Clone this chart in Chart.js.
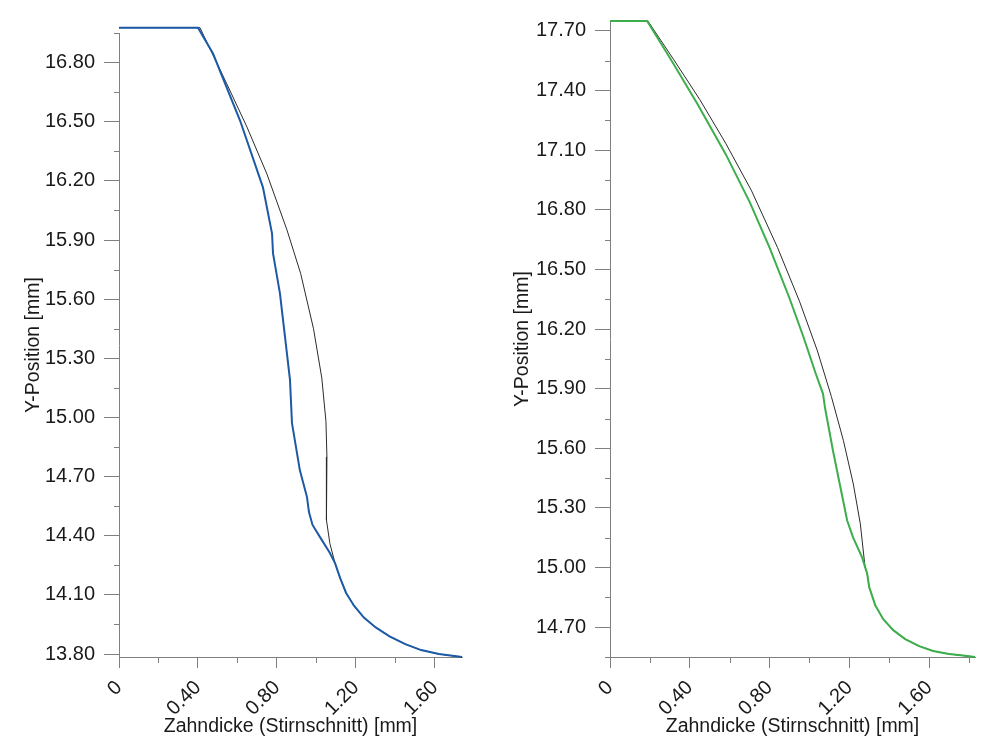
<!DOCTYPE html>
<html>
<head>
<meta charset="utf-8">
<script src="https://cdn.jsdelivr.net/npm/chart.js@4.4.1/dist/chart.umd.min.js"></script>
<style>
  html, body { margin: 0; padding: 0; background: #fff; }
  #left  { position: absolute; left: 0;     top: 0; width: 490px; height: 750px; }
  #right { position: absolute; left: 490px; top: 0; width: 510px; height: 750px; }
</style>
</head>
<body>
<div id="left"><canvas id="chartL"></canvas></div>
<div id="right"><canvas id="chartR"></canvas></div>
<script>
// ---- left chart data (Zahndicke x, Y-Position y) ----
const leftNomX = [0, 0.41, 0.547, 0.648, 0.749, 0.851, 0.92, 0.985, 1.027, 1.048, 1.053, 1.049, 1.052, 1.068, 1.094, 1.12, 1.15, 1.19, 1.24, 1.30, 1.37, 1.45, 1.53, 1.62, 1.737];
const leftNomY = [16.977, 16.977, 16.69, 16.473, 16.235, 15.95, 15.73, 15.45, 15.20, 14.98, 14.80, 14.62, 14.48, 14.36, 14.261, 14.185, 14.11, 14.045, 13.985, 13.935, 13.89, 13.85, 13.82, 13.80, 13.785];
const leftMeasX = [0, 0.40, 0.476, 0.613, 0.729, 0.775, 0.780, 0.815, 0.841, 0.866, 0.876, 0.916, 0.952, 0.962, 0.98, 1.018, 1.068, 1.094, 1.12, 1.15, 1.19, 1.24, 1.30, 1.37, 1.45, 1.53, 1.62, 1.737];
const leftMeasY = [16.977, 16.977, 16.846, 16.506, 16.167, 15.933, 15.832, 15.629, 15.406, 15.189, 14.971, 14.732, 14.596, 14.52, 14.455, 14.393, 14.312, 14.261, 14.185, 14.11, 14.045, 13.985, 13.935, 13.89, 13.85, 13.82, 13.80, 13.785];
const leftXTicks = [0, 0.4, 0.8, 1.2, 1.6];
const leftXMinor = [0.2, 0.6, 1.0, 1.4];
const leftYTicks = [13.8, 14.1, 14.4, 14.7, 15.0, 15.3, 15.6, 15.9, 16.2, 16.5, 16.8];
const leftYMinor = [13.95, 14.25, 14.55, 14.85, 15.15, 15.45, 15.75, 16.05, 16.35, 16.65, 16.95];

// ---- right chart data ----
const rightNomX = [0, 0.19, 0.32, 0.45, 0.58, 0.71, 0.84, 0.95, 1.04, 1.11, 1.17, 1.22, 1.255, 1.279, 1.289, 1.30, 1.33, 1.37, 1.42, 1.48, 1.55, 1.62, 1.70, 1.77, 1.83];
const rightNomY = [17.75, 17.75, 17.555, 17.355, 17.135, 16.895, 16.61, 16.34, 16.09, 15.86, 15.64, 15.42, 15.22, 15.0, 14.971, 14.90, 14.81, 14.74, 14.685, 14.64, 14.605, 14.58, 14.565, 14.557, 14.55];
const rightMeasX = [0, 0.186, 0.30, 0.44, 0.58, 0.70, 0.80, 0.90, 0.97, 1.03, 1.068, 1.078, 1.118, 1.189, 1.219, 1.264, 1.289, 1.30, 1.33, 1.37, 1.42, 1.48, 1.55, 1.62, 1.70, 1.77, 1.83];
const rightMeasY = [17.75, 17.75, 17.565, 17.33, 17.08, 16.84, 16.61, 16.355, 16.16, 15.98, 15.874, 15.804, 15.588, 15.237, 15.151, 15.051, 14.971, 14.90, 14.81, 14.74, 14.685, 14.64, 14.605, 14.58, 14.565, 14.557, 14.55];
const rightXTicks = [0, 0.4, 0.8, 1.2, 1.6];
const rightXMinor = [0.2, 0.6, 1.0, 1.4, 1.8];
const rightYTicks = [14.7, 15.0, 15.3, 15.6, 15.9, 16.2, 16.5, 16.8, 17.1, 17.4, 17.7];
const rightYMinor = [14.55, 14.85, 15.15, 15.45, 15.75, 16.05, 16.35, 16.65, 16.95, 17.25, 17.55];

const axisColor = '#808080';
const textColor = '#1a1a1a';
const fontFamily = '"Liberation Sans", Arial, sans-serif';

function pts(xs, ys) {
  return xs.map((x, i) => ({ x: x, y: ys[i] }));
}

// short minor tick marks between the labelled ones
const minorTicks = {
  id: 'minorTicks',
  afterDraw(chart, args, opts) {
    const ctx = chart.ctx;
    const x = chart.scales.x, y = chart.scales.y;
    ctx.save();
    ctx.strokeStyle = axisColor;
    ctx.lineWidth = 1;
    ctx.beginPath();
    opts.x.forEach(v => {
      const px = Math.round(x.getPixelForValue(v)) + 0.5;
      ctx.moveTo(px, x.top);
      ctx.lineTo(px, x.top + 6);
    });
    opts.y.forEach(v => {
      const py = Math.round(y.getPixelForValue(v)) + 0.5;
      ctx.moveTo(y.right - 5, py);
      ctx.lineTo(y.right, py);
    });
    ctx.stroke();
    ctx.restore();
  }
};

function makeChart(id, c) {
  const fmt = v => (v === 0 ? '0' : v.toFixed(2));
  return new Chart(document.getElementById(id).getContext('2d'), {
    type: 'scatter',
    data: {
      datasets: [
        {
          data: pts(c.measX, c.measY),
          borderColor: c.color,
          borderWidth: 2,
          showLine: true,
          pointRadius: 0,
          tension: 0,
          clip: false
        },
        {
          data: pts(c.nomX, c.nomY),
          borderColor: '#2b2b2b',
          borderWidth: 1,
          showLine: true,
          pointRadius: 0,
          tension: 0,
          clip: false
        }
      ]
    },
    options: {
      responsive: true,
      maintainAspectRatio: false,
      animation: false,
      layout: { padding: { top: c.top, right: c.right, left: 0, bottom: 0 } },
      plugins: {
        legend: { display: false },
        tooltip: { enabled: false },
        minorTicks: { x: c.xMinor, y: c.yMinor }
      },
      scales: {
        x: {
          type: 'linear',
          min: 0,
          max: c.xMax,
          afterBuildTicks: s => { s.ticks = c.xTicks.map(v => ({ value: v })); },
          afterFit: s => { s.height = 93; },
          border: { color: axisColor, width: 1 },
          grid: { drawOnChartArea: false, tickLength: 11, color: axisColor },
          ticks: {
            minRotation: 45,
            maxRotation: 45,
            padding: 8,
            color: textColor,
            font: { family: fontFamily, size: 20 },
            callback: fmt
          },
          title: {
            display: true,
            text: 'Zahndicke (Stirnschnitt) [mm]',
            color: textColor,
            font: { family: fontFamily, size: 19.5 },
            padding: { top: 0, bottom: 12 }
          }
        },
        y: {
          type: 'linear',
          min: c.yMin,
          max: c.yMax,
          afterBuildTicks: s => { s.ticks = c.yTicks.map(v => ({ value: v })); },
          afterFit: s => { s.width = c.left; },
          border: { color: axisColor, width: 1 },
          grid: { drawOnChartArea: false, tickLength: 15, color: axisColor },
          ticks: {
            padding: 9,
            color: textColor,
            font: { family: fontFamily, size: 20 },
            callback: fmt
          },
          title: {
            display: true,
            text: 'Y-Position [mm]',
            color: textColor,
            font: { family: fontFamily, size: 19.5 },
            padding: { top: c.titlePad, bottom: 0 }
          }
        }
      }
    },
    plugins: [minorTicks]
  });
}

makeChart('chartL', {
  measX: leftMeasX, measY: leftMeasY, nomX: leftNomX, nomY: leftNomY,
  color: '#1c5aa6',
  xTicks: leftXTicks, xMinor: leftXMinor, yTicks: leftYTicks, yMinor: leftYMinor,
  xMax: 1.737, yMin: 13.785, yMax: 16.95,
  left: 119, right: 28, top: 33, titlePad: 22
});

makeChart('chartR', {
  measX: rightMeasX, measY: rightMeasY, nomX: rightNomX, nomY: rightNomY,
  color: '#3cae4c',
  xTicks: rightXTicks, xMinor: rightXMinor, yTicks: rightYTicks, yMinor: rightYMinor,
  xMax: 1.83, yMin: 14.55, yMax: 17.75,
  left: 120, right: 25, top: 19, titlePad: 21
});
</script>
</body>
</html>
